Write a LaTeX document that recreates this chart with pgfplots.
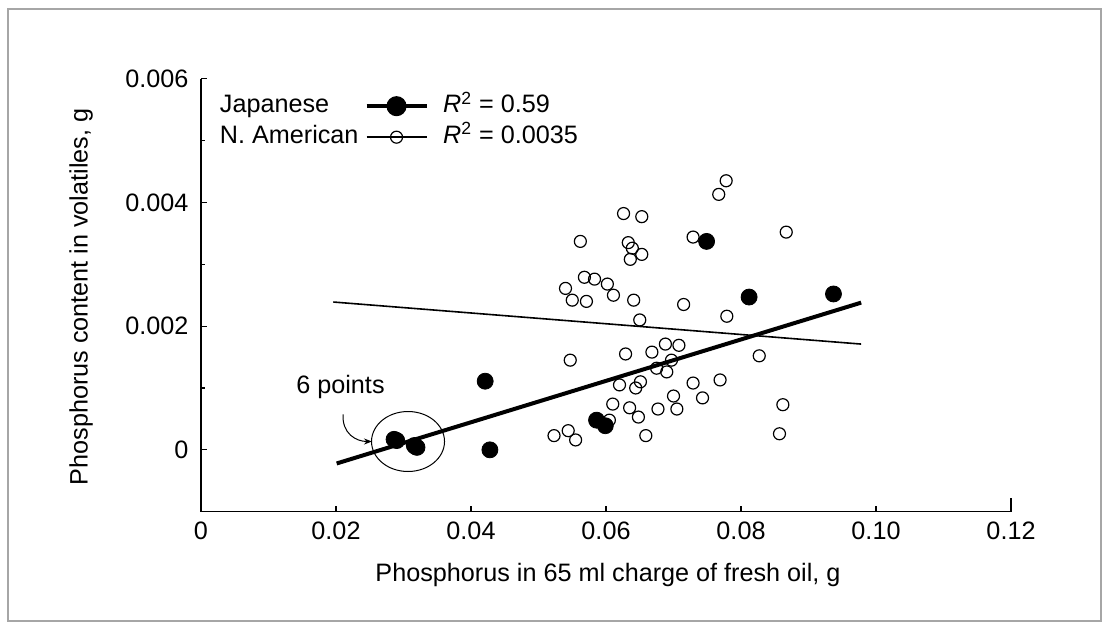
\documentclass[border=0pt]{standalone}
\usepackage{fontspec}
\setmainfont{Liberation Sans}
\usepackage{pgfplots}
\pgfplotsset{compat=1.18}
\usetikzlibrary{arrows.meta}

\pgfplotstableread{
x y
0.0288 0.00016
0.0286 0.00017
0.0290 0.00015
0.0318 0.00005
0.0316 0.00007
0.0320 0.00004
0.0421 0.00111
0.0428 0.00000
0.0586 0.00048
0.0599 0.00039
0.0749 0.00337
0.0812 0.00247
0.0937 0.00252
}\japanese

\pgfplotstableread{
x y
0.0778 0.00435
0.0767 0.00413
0.0626 0.00382
0.0653 0.00377
0.0562 0.00337
0.0633 0.00335
0.0639 0.00326
0.0653 0.00316
0.0636 0.00308
0.0729 0.00344
0.0867 0.00352
0.0540 0.00261
0.0568 0.00279
0.0583 0.00276
0.0602 0.00268
0.0611 0.00250
0.0550 0.00242
0.0571 0.00240
0.0641 0.00242
0.0715 0.00235
0.0779 0.00216
0.0650 0.00210
0.0547 0.00145
0.0629 0.00155
0.0668 0.00158
0.0688 0.00171
0.0708 0.00169
0.0697 0.00145
0.0675 0.00132
0.0690 0.00126
0.0827 0.00152
0.0620 0.00105
0.0651 0.00110
0.0644 0.00100
0.0729 0.00108
0.0769 0.00113
0.0610 0.00074
0.0635 0.00068
0.0648 0.00053
0.0677 0.00066
0.0700 0.00087
0.0705 0.00066
0.0743 0.00084
0.0605 0.00048
0.0523 0.00023
0.0544 0.00031
0.0555 0.00016
0.0659 0.00023
0.0862 0.00073
0.0857 0.00026
}\namerican

\begin{document}
\begin{tikzpicture}[font=\fontsize{12.6}{15}\selectfont]
\useasboundingbox (0,0) rectangle (553.5pt,311.5pt);
\draw[gray!70,line width=0.6pt] (4pt,1pt) rectangle (550.5pt,307pt);

\begin{axis}[
  at={(100.5pt,55.65pt)},
  anchor=south west,
  scale only axis,
  width=405pt,
  height=216.5pt,
  xmin=0, xmax=0.12,
  ymin=-0.001, ymax=0.006,
  axis lines=left,
  axis line style={-,line width=0.7pt},
  tick align=inside,
  xtick={0,0.02,0.04,0.06,0.08,0.10},
  xticklabels={0,0.02,0.04,0.06,0.08,0.10},
  extra x ticks={0.12},
  extra x tick labels={0.12},
  extra x tick style={major tick length=7pt},
  ytick={0,0.002,0.004,0.006},
  yticklabels={0,0.002,0.004,0.006},
  minor y tick num=1,
  major tick length=3pt,
  minor tick length=2pt,
  scaled ticks=false,
  tick style={line width=0.6pt,black},
  xticklabel style={yshift=-1.8pt},
  yticklabel style={xshift=-2.8pt},
  clip=false,
  legend plot pos=right,
  legend cell align=left,
  legend image code/.code={\draw[mark repeat=2,mark phase=2,#1] plot coordinates {(0pt,0pt) (15pt,0pt) (30pt,0pt)};},
  legend style={at={(axis cs:0.0028,0.00575)},anchor=north west,draw=none,fill=none,
    inner sep=0pt,outer sep=0pt,row sep=3.5pt,column sep=3pt,
    nodes={inner sep=0pt,text height=9pt,text depth=3pt}},
]

% fitted lines
\addplot[black,line width=2pt,forget plot] coordinates {(0.0201,-0.00022) (0.0978,0.00238)};
\addplot[black,line width=0.8pt,forget plot] coordinates {(0.0196,0.00239) (0.0978,0.00171)};

% data
\addplot[only marks,mark=o,mark size=3pt,mark options={line width=0.6pt,black},forget plot]
  table[x=x,y=y] {\namerican};
\addplot[only marks,mark=*,mark size=4pt,mark options={black,fill=black},forget plot]
  table[x=x,y=y] {\japanese};

\addlegendimage{black,line width=2pt,mark=*,mark size=4pt,mark options={fill=black}}
\addlegendentry{Japanese}
\addlegendimage{black,line width=0.8pt,mark=o,mark size=3pt,mark options={line width=0.6pt,fill=white}}
\addlegendentry{N. American}

\node[anchor=base west,inner sep=0pt] at (axis cs:0.0358,0.00545) {\textit{R}\textsuperscript{2} = 0.59};
\node[anchor=base west,inner sep=0pt] at (axis cs:0.0358,0.00495) {\textit{R}\textsuperscript{2} = 0.0035};

% annotation
\draw[line width=0.5pt] (axis cs:0.03067,0.000135) ellipse [x radius=18.25pt,y radius=15pt];
\node[anchor=base west,inner sep=0pt] at (axis cs:0.01407,0.000913) {6 points};
\draw[line width=0.5pt,-{Stealth[length=4pt]}] (axis cs:0.02104,0.000572)
  .. controls (axis cs:0.02089,0.000264) and (axis cs:0.02296,0.000135) .. (axis cs:0.02533,0.000135);
\end{axis}

\node[rotate=90] at (40.5pt,163pt) {Phosphorus content in volatiles, g};
\node[anchor=base] at (304pt,21pt) {Phosphorus in 65 ml charge of fresh oil, g};
\end{tikzpicture}
\end{document}
